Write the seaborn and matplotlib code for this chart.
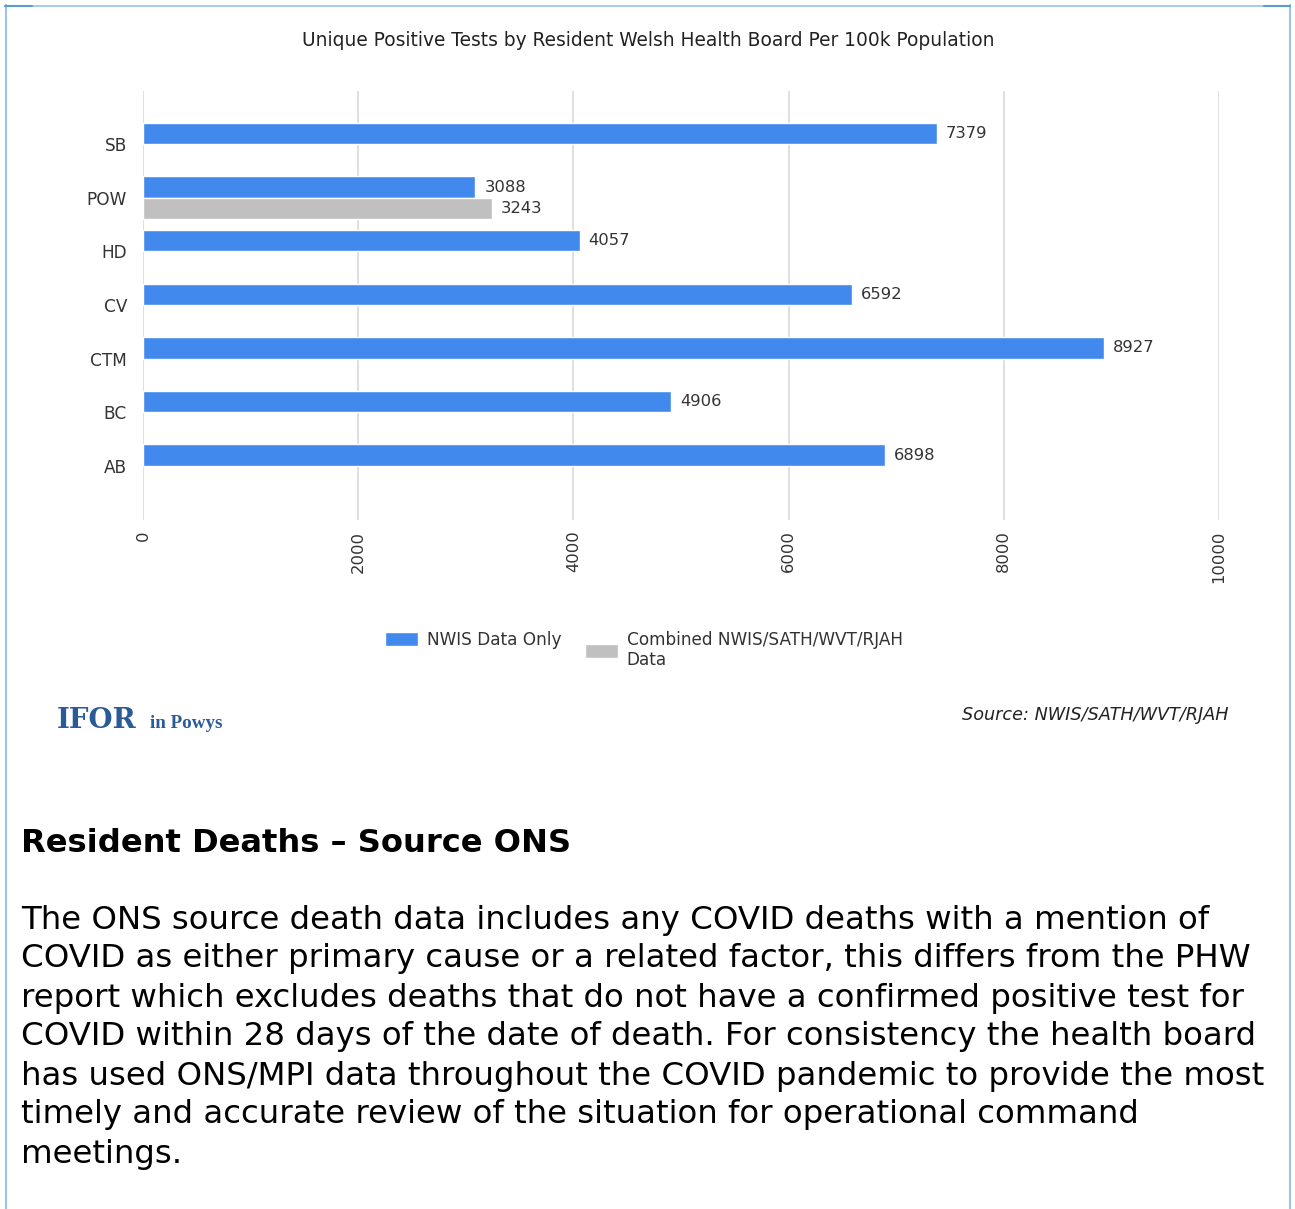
import numpy as np
import pandas as pd
import matplotlib
matplotlib.use('Agg')
import matplotlib.pyplot as plt
import seaborn as sns
from matplotlib.lines import Line2D

# chart data
boards = ['SB', 'POW', 'HD', 'CV', 'CTM', 'BC', 'AB']
nwis_only = [7379, 3088, 4057, 6592, 8927, 4906, 6898]
combined = [np.nan, 3243, np.nan, np.nan, np.nan, np.nan, np.nan]
series = ['NWIS Data Only', 'Combined NWIS/SATH/WVT/RJAH\nData']
x_ticks = [0, 2000, 4000, 6000, 8000, 10000]

title = 'Unique Positive Tests by Resident Welsh Health Board Per 100k Population'
source = 'Source: NWIS/SATH/WVT/RJAH'
heading = 'Resident Deaths \u2013 Source ONS'
para_lines = [
    'The ONS source death data includes any COVID deaths with a mention of',
    'COVID as either primary cause or a related factor, this differs from the PHW',
    'report which excludes deaths that do not have a confirmed positive test for',
    'COVID within 28 days of the date of death. For consistency the health board',
    'has used ONS/MPI data throughout the COVID pandemic to provide the most',
    'timely and accurate review of the situation for operational command',
    'meetings.',
]

# long form table for seaborn
df = pd.DataFrame({'board': boards * 2,
                   'value': nwis_only + combined,
                   'series': [series[0]] * len(boards) + [series[1]] * len(boards)})
df = df.dropna()

sns.set_style('white')
plt.rcParams['font.family'] = ['DejaVu Sans']

W, H = 1295, 1209
fig = plt.figure(figsize=(W / 100, H / 100), dpi=100)

def fx(x):
    return x / W

def fy(y):
    return 1 - y / H

ax = fig.add_axes([fx(143), fy(519.5), fx(1219) - fx(143), fy(90.5) - fy(519.5)])
sns.barplot(data=df, y='board', x='value', hue='series', order=boards,
            hue_order=series, palette=['#4189ec', '#c0c0c0'], orient='h',
            width=0.8, saturation=1, errorbar=None, ax=ax)

handles, labels = ax.get_legend_handles_labels()
ax.get_legend().remove()

for cont in ax.containers:
    ax.bar_label(cont, fmt='%d', padding=6.5, fontsize=11.8, color='#333333')

ax.set_xlim(0, 10000)
ax.set_ylim(7.0, -1.0)
ax.set_xticks(x_ticks)
ax.set_xticklabels([str(t) for t in x_ticks], rotation=90, fontsize=11.8, color='#333333')
ax.tick_params(axis='x', length=0, pad=8)
ax.tick_params(axis='y', length=0, pad=11.5, labelsize=12.2, labelcolor='#333333')
ax.set_xlabel('')
ax.set_ylabel('')
ax.xaxis.grid(True, color='#d9d9d9', linewidth=1.2)
ax.set_axisbelow(True)
for s in ax.spines.values():
    s.set_visible(False)

fig.text(fx(648), fy(41), title, ha='center', va='center', fontsize=13.4, color='#222222')

# two legend entries placed side by side, as in the original
leg_kw = dict(frameon=False, fontsize=12.2, handlelength=1.92, handleheight=0.84,
              handletextpad=0.54, borderpad=0, borderaxespad=0, labelcolor='#333333')
fig.legend([handles[0]], [labels[0]], loc='center left',
           bbox_to_anchor=(fx(385), fy(640)), **leg_kw)
fig.legend([handles[1]], [labels[1]], loc='center left',
           bbox_to_anchor=(fx(585), fy(650)), **leg_kw)

# logo and source
fig.text(fx(57), fy(720), 'IFOR', ha='left', va='center', fontsize=20, fontweight='bold',
         family='DejaVu Serif', color='#2b5b96')
fig.text(fx(150), fy(723), 'in Powys', ha='left', va='center', fontsize=13.7, fontweight='bold',
         family='Liberation Serif', color='#2b5b96')
fig.text(fx(1228), fy(715), source, ha='right', va='center', fontsize=12.7, style='italic',
         color='#222222')

# text below the chart
fig.text(fx(21), fy(843), heading, ha='left', va='center', fontsize=23.15, fontweight='bold',
         color='black')
for i, line in enumerate(para_lines):
    fig.text(fx(21), fy(920 + 39 * i), line, ha='left', va='center', fontsize=23.3, color='black')

# page frame
frame = '#9cc2e5'
fig.add_artist(Line2D([fx(5.5), fx(5.5)], [fy(5), 0], color=frame, lw=1.5, transform=fig.transFigure))
fig.add_artist(Line2D([fx(1290), fx(1290)], [fy(5), 0], color=frame, lw=1.5, transform=fig.transFigure))
fig.add_artist(Line2D([fx(5), fx(1290)], [fy(5.5), fy(5.5)], color=frame, lw=1.2, transform=fig.transFigure))
fig.add_artist(Line2D([fx(5), fx(32)], [fy(6), fy(6)], color='#5b9bd5', lw=1.5, transform=fig.transFigure))
fig.add_artist(Line2D([fx(1264), fx(1290)], [fy(6), fy(6)], color='#5b9bd5', lw=1.5, transform=fig.transFigure))

fig.savefig('out.png', dpi=100)
